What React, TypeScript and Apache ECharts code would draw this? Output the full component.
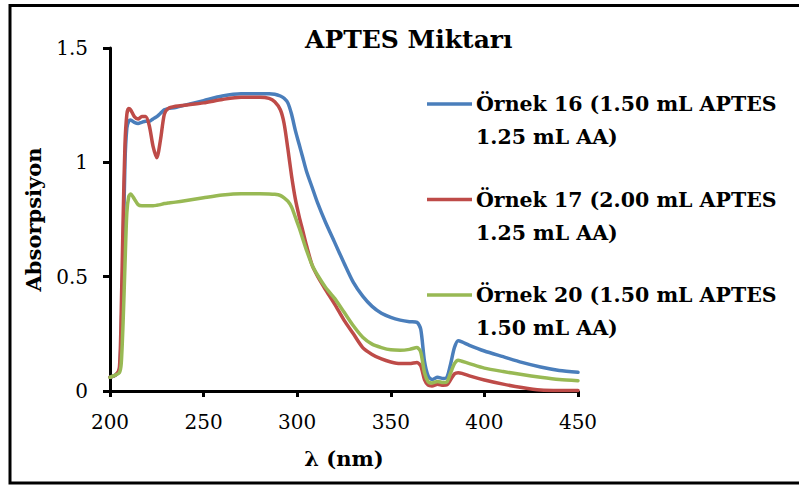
import { useEffect, useRef } from "react";
import * as echarts from "echarts";

// Wavelength grid (nm) shared by all three spectra
const wavelengths = [
  200, 203, 205, 206, 207, 208, 209, 210, 211,
  213, 215, 217, 219, 221, 223, 225, 227, 229, 231,
  235, 240, 250, 260, 270, 280, 285, 288, 291, 293,
  295, 297, 299, 301, 303, 305, 308, 311, 315, 320,
  325, 330, 335, 340, 345, 350, 355, 360, 364, 366,
  368, 370, 372, 375, 378, 380, 382, 384, 386, 388,
  392, 400, 410, 420, 430, 440, 450,
];

// Absorbance, Örnek 16 (1.50 mL APTES, 1.25 mL AA)
const ornek16 = [
  0.06, 0.07, 0.09, 0.25, 0.6, 1.0, 1.15, 1.18, 1.185,
  1.175, 1.17, 1.175, 1.18, 1.18, 1.19, 1.2, 1.215, 1.23, 1.235,
  1.24, 1.25, 1.27, 1.29, 1.3, 1.3, 1.3, 1.298, 1.29, 1.28,
  1.26, 1.21, 1.14, 1.08, 1.02, 0.96, 0.89, 0.82, 0.74, 0.65,
  0.56, 0.475, 0.415, 0.37, 0.34, 0.322, 0.31, 0.303, 0.3, 0.27,
  0.13, 0.065, 0.05, 0.06, 0.055, 0.06, 0.12, 0.19, 0.22, 0.215,
  0.2, 0.175, 0.15, 0.125, 0.105, 0.09, 0.082,
];

// Absorbance, Örnek 17 (2.00 mL APTES, 1.25 mL AA)
const ornek17 = [
  0.06, 0.07, 0.1, 0.35, 0.75, 1.08, 1.21, 1.235, 1.23,
  1.2, 1.19, 1.2, 1.2, 1.16, 1.07, 1.02, 1.1, 1.21, 1.235,
  1.245, 1.25, 1.26, 1.275, 1.285, 1.285, 1.28, 1.265, 1.23, 1.17,
  1.06, 0.94, 0.84, 0.765, 0.7, 0.635, 0.55, 0.5, 0.445, 0.38,
  0.31, 0.25, 0.19, 0.16, 0.14, 0.127, 0.12, 0.12, 0.125, 0.11,
  0.05, 0.025, 0.022, 0.03, 0.025, 0.027, 0.05, 0.075, 0.08, 0.077,
  0.066, 0.048, 0.03, 0.015, 0.004, 0.002, 0.002,
];

// Absorbance, Örnek 20 (1.50 mL APTES, 1.50 mL AA)
const ornek20 = [
  0.06, 0.07, 0.08, 0.12, 0.3, 0.55, 0.78, 0.85, 0.862,
  0.84, 0.815, 0.81, 0.81, 0.81, 0.81, 0.812, 0.815, 0.82, 0.822,
  0.826, 0.832, 0.845, 0.857, 0.863, 0.863, 0.862, 0.86, 0.855, 0.845,
  0.83, 0.805, 0.76, 0.715, 0.665, 0.615, 0.55, 0.505, 0.455, 0.405,
  0.345, 0.285, 0.235, 0.205, 0.19, 0.18, 0.178, 0.182, 0.19, 0.17,
  0.08, 0.04, 0.035, 0.042, 0.037, 0.04, 0.08, 0.12, 0.135, 0.13,
  0.12, 0.1, 0.085, 0.072, 0.06, 0.05, 0.045,
];

const seriesNames = ["Örnek 16", "Örnek 17", "Örnek 20"];
const legendLines = [
  ["Örnek 16 (1.50 mL APTES", "1.25 mL AA)"],
  ["Örnek 17 (2.00 mL APTES", "1.25 mL AA)"],
  ["Örnek 20 (1.50 mL APTES", "1.50 mL AA)"],
];
const seriesColors = ["#4A7EBB", "#BE4B48", "#98B954"];
const seriesValues = [ornek16, ornek17, ornek20];

const titleText = "APTES Miktarı";
const xAxisName = "λ (nm)";
const yAxisName = "Absorpsiyon";

const FONT = "DejaVu Serif";

export default function App() {
  const ref = useRef<HTMLDivElement>(null);

  useEffect(() => {
    if (!ref.current) return;
    const chart = echarts.init(ref.current, null, { renderer: "svg" });

    const series = seriesValues.map((vals, i) => ({
      name: seriesNames[i],
      type: "line",
      data: wavelengths.map((w, k) => [w, vals[k]]),
      showSymbol: false,
      smooth: 0.25,
      lineStyle: { color: seriesColors[i], width: 3.5, cap: "round", join: "round" },
      itemStyle: { color: seriesColors[i] },
      z: 2 + i,
    }));

    // Legend: a short coloured line per series beside a two-line label
    const legendGraphics = legendLines.flatMap((lines, i) => {
      const cy = 104 + i * 95.5;
      return [
        {
          type: "line",
          shape: { x1: 427, y1: cy, x2: 472, y2: cy },
          style: { stroke: seriesColors[i], lineWidth: 3.5 },
        },
        {
          type: "text",
          x: 476,
          y: cy - 16.5,
          style: {
            text: lines.join("\n"),
            font: `bold 20.5px ${FONT}`,
            lineHeight: 33,
            fill: "#000",
            verticalAlign: "top",
            align: "left",
          },
        },
      ];
    });

    chart.setOption({
      animation: false,
      backgroundColor: "#fff",
      title: {
        text: titleText,
        left: 305,
        top: 27,
        padding: 0,
        textStyle: { fontFamily: FONT, fontSize: 25, fontWeight: "bold", color: "#000" },
      },
      grid: { left: 110, right: 221, top: 48, bottom: 95 },
      xAxis: {
        type: "value",
        min: 200,
        max: 450,
        interval: 50,
        name: xAxisName,
        nameLocation: "middle",
        nameGap: 57,
        nameTextStyle: { fontFamily: FONT, fontSize: 21, fontWeight: "bold", color: "#000" },
        axisLine: { show: true, onZero: false, lineStyle: { color: "#000", width: 3 } },
        axisTick: { show: true, inside: false, length: 6, lineStyle: { color: "#000", width: 3 } },
        axisLabel: { fontFamily: FONT, fontSize: 20, color: "#000", margin: 21 },
        splitLine: { show: false },
      },
      yAxis: {
        type: "value",
        min: 0,
        max: 1.5,
        interval: 0.5,
        name: yAxisName,
        nameLocation: "middle",
        nameGap: 66,
        nameTextStyle: { fontFamily: FONT, fontSize: 21, fontWeight: "bold", color: "#000" },
        axisLine: { show: true, lineStyle: { color: "#000", width: 3 } },
        axisTick: { show: true, inside: false, length: 7, lineStyle: { color: "#000", width: 3 } },
        axisLabel: { fontFamily: FONT, fontSize: 20, color: "#000", margin: 22 },
        splitLine: { show: false },
      },
      series,
      graphic: [
        {
          type: "rect",
          shape: { x: 10, y: 5.5, width: 795, height: 477.5 },
          style: { fill: "none", stroke: "#000", lineWidth: 3 },
          silent: true,
        },
        ...legendGraphics,
      ],
    });

    return () => chart.dispose();
  }, []);

  return (
    <div
      ref={ref}
      style={{ position: "absolute", left: 0, top: 0, width: 799, height: 486 }}
    />
  );
}
